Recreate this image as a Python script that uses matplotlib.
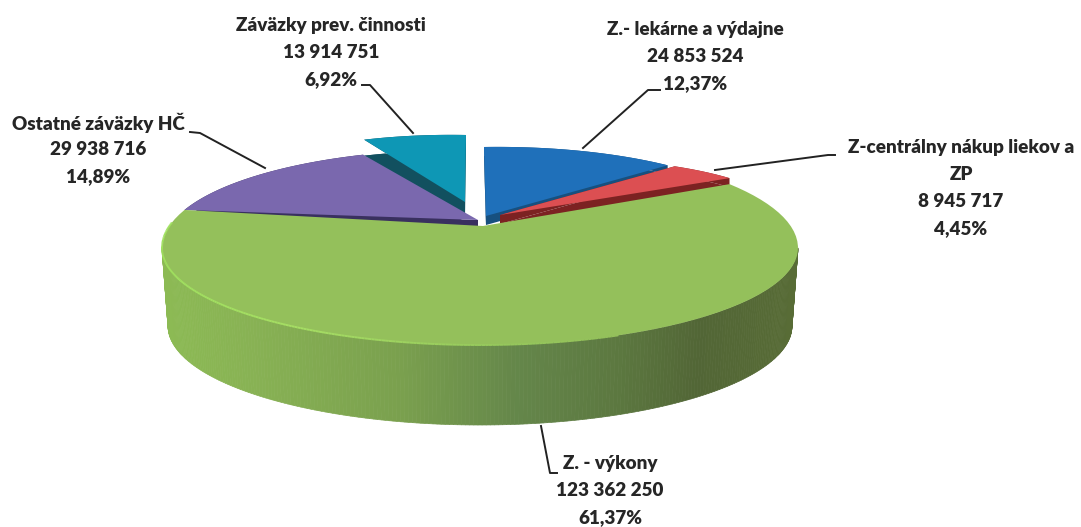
import numpy as np
import matplotlib
matplotlib.use("Agg")
import matplotlib.pyplot as plt
from matplotlib.collections import LineCollection, PolyCollection

# poradie od 12 hodiny v smere hodin
names = ["Z.- lekárne a výdajne", "Z-centrálny nákup liekov a\nZP", "Z. - výkony",
         "Ostatné záväzky HČ", "Záväzky prev. činnosti"]
values = [24853524, 8945717, 123362250, 29938716, 13914751]
value_labels = ["24 853 524", "8 945 717", "123 362 250", "29 938 716", "13 914 751"]
pct_labels = ["12,37%", "4,45%", "61,37%", "14,89%", "6,92%"]

top_colors = ["#1f70ba", "#dc4f52", "#94c05b", "#7a68ae", "#0e97b5"]
dark_colors = ["#17507f", "#7c2222", "#5a7a35", "#39305f", "#12505f"]
apexes = [(486, 216), (500, 215), (483, 226), (478, 220), (465, 202)]
# posun oblúka na začiatku a na konci kusa
shift_start = [(4, 2), (1, 0), (0, 0), (0, 0), (-3, -12)]
shift_end = [(-6, -1), (0, -6), (0, 0), (-4, 3), (-14, -10)]
slice_depth = [9, 9, 0, 9, 16]
# teal, fialovy, modry, cerveny
draw_order = [4, 3, 0, 1]

label_x = [695, 961, 610, 98, 331]
label_y = [30, 148, 464, 123, 26]
line_gap = 26.7
leaders = [[(660, 90), (648, 90), (583, 148)],
           [(835, 155), (828, 155), (715, 170)],
           [(557, 473), (550, 473), (541, 426)],
           [(190, 132), (200, 133), (265, 168)],
           [(362, 85), (370, 85), (413, 133)]]

cx, cy = 480, 248
a_top, a_bot = 318, 312
b_back, b_front = 103, 97
bot_cy, bot_b = 326, 99
warp = 0.83


def to_phi(theta):
    t = np.where(theta > 180, theta - 360, theta)
    phi = 2 * np.arctan(warp * np.tan(np.radians(t) / 2))
    return np.where(theta > 180, phi + 2 * np.pi, phi)


def rim(phi):
    b = np.where(np.cos(phi) > 0, b_back, b_front)
    return np.column_stack([cx + a_top * np.sin(phi), cy - b * np.cos(phi)])


def wedge(t0, t1, apex, s0, s1):
    arc = rim(to_phi(np.linspace(t0, t1, 80)))
    arc = arc + np.linspace(s0, s1, 80)
    return np.vstack([[apex], arc])


fig = plt.figure(figsize=(10.81, 5.27), dpi=100)
ax = fig.add_axes([0, 0, 1, 1])
ax.set_xlim(0, 1081)
ax.set_ylim(527, 0)
ax.axis("off")

edges = np.cumsum([0] + values) / sum(values) * 360

# odrezane kusy, zadne najprv
z = 2
for i in draw_order:
    pts = wedge(edges[i], edges[i + 1], apexes[i], shift_start[i], shift_end[i])
    low = pts + np.array([0, slice_depth[i]])
    ax.fill(np.r_[pts[:, 0], low[::-1, 0]], np.r_[pts[:, 1], low[::-1, 1]],
            color=dark_colors[i], lw=0, zorder=z)
    ax.fill(low[:, 0], low[:, 1], color=dark_colors[i], lw=0, zorder=z)
    ax.fill(pts[:, 0], pts[:, 1], color=top_colors[i], lw=0, zorder=z + 0.5)
    z += 1

# bok zeleneho kusa
phis = np.linspace(np.pi / 2, 3 * np.pi / 2, 240)
up = rim(phis)
down = np.column_stack([cx + a_bot * np.sin(phis), bot_cy - bot_b * np.cos(phis)])
quads = [[up[k], up[k + 1], down[k + 1], down[k]] for k in range(len(phis) - 1)]
stops_x = [163, 250, 400, 520, 620, 700, 798]
stops_rgb = np.array([[140, 186, 84], [136, 178, 84], [122, 160, 78], [100, 134, 74],
                      [92, 120, 64], [82, 102, 54], [88, 108, 54]]) / 255
mid_x = (up[:-1, 0] + up[1:, 0]) / 2
side_cols = np.column_stack([np.interp(mid_x, stops_x, stops_rgb[:, c]) for c in range(3)])
ax.add_collection(PolyCollection(quads, facecolors=side_cols, edgecolors=side_cols,
                                 linewidths=0.5, zorder=7))

# vrch zeleneho kusa
g = wedge(edges[2], edges[3], apexes[2], shift_start[2], shift_end[2])
ax.fill(g[:, 0], g[:, 1], color=top_colors[2], lw=0, zorder=8)

# svetla hrana
phis_e = np.linspace(np.pi - 0.45, 3 * np.pi / 2 + 0.25, 200)
rim_pts = rim(phis_e)
segs = np.stack([rim_pts[:-1], rim_pts[1:]], axis=1)
rim_stops = np.array([[160, 225, 95], [166, 222, 100], [150, 200, 92], [148, 192, 91]]) / 255
rim_x = [163, 300, 500, 620]
seg_x = rim_pts[:-1, 0]
rim_cols = np.column_stack([np.interp(seg_x, rim_x, rim_stops[:, c]) for c in range(3)])
ax.add_collection(LineCollection(segs, colors=rim_cols, linewidths=1.4, zorder=9))

# popisky
for i in range(len(names)):
    lines = names[i].split("\n") + [value_labels[i], pct_labels[i]]
    for k, line in enumerate(lines):
        ax.text(label_x[i], label_y[i] + k * line_gap, line, ha="center", va="center",
                family=["Lato", "DejaVu Sans"], weight="heavy", fontsize=13.6, color="#262626", zorder=12)
    xs, ys = zip(*leaders[i])
    ax.plot(xs, ys, color="#222222", lw=1.4, zorder=11)

fig.savefig("out.png", dpi=100)
